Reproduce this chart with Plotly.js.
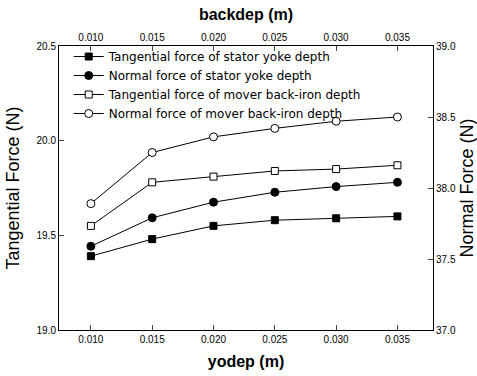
<!DOCTYPE html>
<html>
<head>
<meta charset="utf-8">
<script src="https://cdn.plot.ly/plotly-3.0.1.min.js"></script>
<style>body{margin:0;background:#fff}#chart{width:477px;height:376px}</style>
</head>
<body>
<div id="chart"></div>
<script>
var depth = [0.010, 0.015, 0.020, 0.025, 0.030, 0.035];
var tangStator = [19.39, 19.48, 19.55, 19.58, 19.59, 19.60];
var normStator = [37.59, 37.79, 37.90, 37.97, 38.01, 38.04];
var tangMover = [19.55, 19.78, 19.81, 19.84, 19.85, 19.87];
var normMover = [37.89, 38.25, 38.36, 38.42, 38.47, 38.50];
var names = [
  'Tangential force of stator yoke depth',
  'Normal force of stator yoke depth',
  'Tangential force of mover back-iron depth',
  'Normal force of mover back-iron depth'
];
var xTicks = [0.010, 0.015, 0.020, 0.025, 0.030, 0.035];

function tr(x, y, name, sym, fill, size, xa, ya) {
  return {
    x: x, y: y, name: name, type: 'scatter', mode: 'lines+markers',
    xaxis: xa, yaxis: ya,
    line: {color: '#000', width: 1},
    marker: {symbol: sym, size: size, color: fill, line: {color: '#000', width: 1}}
  };
}
var data = [
  tr(depth, tangStator, names[0], 'square', '#000', 7, 'x', 'y'),
  tr(depth, normStator, names[1], 'circle', '#000', 8, 'x', 'y2'),
  tr(depth, tangMover, names[2], 'square', '#fff', 7, 'x2', 'y'),
  tr(depth, normMover, names[3], 'circle', '#fff', 8, 'x2', 'y2')
];
var xr = [0.0074, 0.0379];
var ff = 'Liberation Sans, Arial, sans-serif';
var tickfont = {family: ff, size: 10, color: '#000'};
var layout = {
  width: 477, height: 376,
  margin: {l: 59, r: 44, t: 46, b: 46},
  paper_bgcolor: '#fff', plot_bgcolor: '#fff',
  font: {family: ff, color: '#000'},
  showlegend: true,
  legend: {x: 0.026, y: 1.014, xanchor: 'left', yanchor: 'top', bgcolor: 'rgba(0,0,0,0)',
           font: {family: 'DejaVu Sans, sans-serif', size: 12, color: '#000'},
           tracegroupgap: 0, itemwidth: 30},
  xaxis: {range: xr, tickvals: xTicks, tickformat: '.3f', ticks: 'inside', ticklen: 5,
          showgrid: false, zeroline: false, showline: true, linecolor: '#000', linewidth: 1,
          tickfont: tickfont, anchor: 'y', side: 'bottom',
          title: {text: '<b>yodep (m)</b>', font: {size: 16, color: '#000'}, standoff: 11}},
  xaxis2: {range: xr, tickvals: xTicks, tickformat: '.3f', ticks: 'inside', ticklen: 5,
          showgrid: false, zeroline: false, showline: true, linecolor: '#000', linewidth: 1,
          tickfont: tickfont, overlaying: 'x', anchor: 'y', side: 'top',
          title: {text: '<b>backdep (m)</b>', font: {size: 16, color: '#000'}, standoff: 7}},
  yaxis: {range: [19.0, 20.5], tickvals: [19.0, 19.5, 20.0, 20.5], tickformat: '.1f',
          ticks: 'inside', ticklen: 5, showgrid: false, zeroline: false, showline: true,
          linecolor: '#000', linewidth: 1, tickfont: tickfont,
          title: {text: 'Tangential Force (N)', font: {size: 18, color: '#000'}, standoff: 12}},
  yaxis2: {range: [37.0, 39.0], tickvals: [37.0, 37.5, 38.0, 38.5, 39.0], tickformat: '.1f',
          ticks: 'inside', ticklen: 5, showgrid: false, zeroline: false, showline: true,
          linecolor: '#000', linewidth: 1, tickfont: tickfont, overlaying: 'y', side: 'right',
          anchor: 'x',
          title: {text: 'Normal Force (N)', font: {size: 18, color: '#000'}, standoff: 27}}
};
Plotly.newPlot('chart', data, layout, {displayModeBar: false, staticPlot: true});
</script>
</body>
</html>
